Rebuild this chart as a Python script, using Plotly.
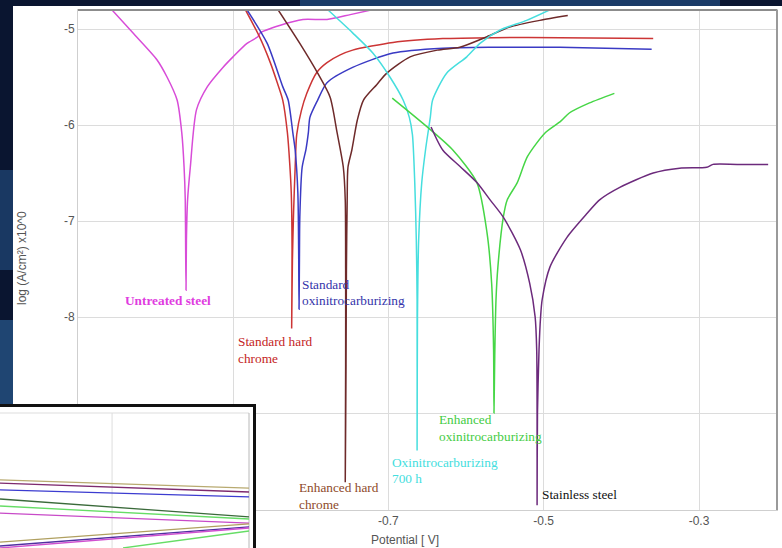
import plotly.graph_objects as go

W, H = 782, 548

# ---- Polarization curves: potential [V] vs log current density ----
untreated_v = [-1.056, -1.029, -0.998, -0.985, -0.972, -0.966, -0.963, -0.9615, -0.961, -0.9605,
               -0.9600, -0.9585, -0.955, -0.947, -0.933, -0.913, -0.900, -0.882, -0.868, -0.865,
               -0.839, -0.810, -0.779, -0.749, -0.721]
untreated_i = [-4.80, -5.04, -5.32, -5.50, -5.74, -6.08, -6.44, -6.78, -7.30, -7.72,
               -7.20, -6.78, -6.44, -5.84, -5.60, -5.40, -5.29, -5.15, -5.08, -5.04,
               -4.96, -4.90, -4.90, -4.85, -4.80]

hard_chrome_v = [-0.884, -0.866, -0.852, -0.843, -0.836, -0.830, -0.827, -0.825, -0.824, -0.8245,
                 -0.8235, -0.822, -0.820, -0.818, -0.812, -0.805, -0.792, -0.779, -0.762, -0.746,
                 -0.694, -0.630, -0.565, -0.479, -0.359]
hard_chrome_i = [-4.80, -5.08, -5.35, -5.56, -5.74, -6.08, -6.40, -6.71, -7.30, -8.12,
                 -7.40, -6.90, -6.44, -6.10, -5.85, -5.67, -5.45, -5.35, -5.27, -5.22,
                 -5.14, -5.10, -5.09, -5.09, -5.10]

oxinitro_v = [-0.882, -0.856, -0.836, -0.829, -0.823, -0.820, -0.8165, -0.8155, -0.815, -0.8145,
              -0.814, -0.811, -0.806, -0.803, -0.801, -0.791, -0.779, -0.746, -0.694, -0.630,
              -0.565, -0.479, -0.361]
oxinitro_i = [-4.80, -5.15, -5.60, -5.74, -6.08, -6.26, -6.71, -7.30, -7.92, -7.40,
              -6.96, -6.44, -6.25, -6.08, -5.92, -5.74, -5.56, -5.40, -5.25, -5.20,
              -5.19, -5.19, -5.21]

enh_chrome_v = [-0.842, -0.814, -0.791, -0.775, -0.766, -0.758, -0.7555, -0.755, -0.755, -0.7555,
                -0.7545, -0.754, -0.753, -0.752, -0.747, -0.740, -0.732, -0.715, -0.702, -0.672,
                -0.637, -0.608, -0.573, -0.544, -0.505, -0.469]
enh_chrome_i = [-4.80, -5.15, -5.46, -5.71, -6.08, -6.44, -6.78, -7.50, -8.50, -9.72,
                -8.50, -7.50, -6.78, -6.44, -6.26, -5.95, -5.74, -5.58, -5.46, -5.29,
                -5.22, -5.19, -5.08, -4.98, -4.91, -4.86]

oxi700_v = [-0.778, -0.746, -0.720, -0.698, -0.681, -0.673, -0.669, -0.666, -0.664, -0.663,
            -0.663, -0.6625, -0.661, -0.657, -0.652, -0.646, -0.643, -0.625, -0.599, -0.582,
            -0.556, -0.522, -0.492]
oxi700_i = [-4.80, -5.04, -5.25, -5.50, -5.74, -5.92, -6.10, -6.60, -7.20, -7.82,
            -9.39, -8.00, -7.20, -6.60, -6.25, -5.92, -5.74, -5.46, -5.29, -5.15,
            -5.01, -4.91, -4.80]

enh_oxi_v = [-0.695, -0.650, -0.617, -0.586, -0.573, -0.567, -0.5645, -0.564, -0.563, -0.5614,
             -0.559, -0.552, -0.547, -0.534, -0.521, -0.498, -0.478, -0.467, -0.441, -0.409]
enh_oxi_i = [-5.72, -6.02, -6.26, -6.60, -7.12, -7.65, -8.34, -9.00, -8.40, -7.82,
             -7.48, -6.96, -6.78, -6.60, -6.33, -6.08, -5.96, -5.875, -5.77, -5.67]

stainless_v = [-0.645, -0.630, -0.608, -0.586, -0.569, -0.552, -0.530, -0.518, -0.511, -0.509,
               -0.5085, -0.5085, -0.508, -0.506, -0.504, -0.502, -0.492, -0.470, -0.444, -0.428,
               -0.402, -0.359, -0.325, -0.290, -0.282, -0.251, -0.211]
stainless_i = [-6.02, -6.26, -6.43, -6.60, -6.78, -6.96, -7.30, -7.65, -8.00, -8.34,
               -9.00, -9.96, -9.00, -8.34, -8.00, -7.82, -7.48, -7.17, -6.92, -6.78,
               -6.65, -6.50, -6.45, -6.44, -6.41, -6.41, -6.41]

curve_colors = ["#d84cd8", "#cc3535", "#3a3ac4", "#6e2a2a", "#46dede", "#46d646", "#6c2a7c"]

# ---- Curve labels (one entry per text line) ----
label_text = ["<b>Untreated steel</b>", "Standard hard", "chrome", "Standard", "oxinitrocarburizing",
              "Enhanced hard", "chrome", "Oxinitrocarburizing", "700 h", "Enhanced",
              "oxinitrocarburizing", "Stainless steel"]
label_v = [-1.0415, -0.8962, -0.8962, -0.8138, -0.8138, -0.8176, -0.8176, -0.6979, -0.6979, -0.6373,
           -0.6373, -0.5048]
label_i = [-7.83, -8.26, -8.43, -7.66, -7.83, -9.78, -9.95, -9.51, -9.68, -9.07, -9.24, -9.85]
label_color = ["#e03ce0", "#c42424", "#c42424", "#3434aa", "#3434aa", "#8e4a2a", "#8e4a2a",
               "#44dede", "#44dede", "#44cc44", "#44cc44", "#111111"]

# ---- Axis ticks ----
x_ticks = [-0.9, -0.7, -0.5, -0.3]
x_tick_labels = ["-0.9", "-0.7", "-0.5", "-0.3"]
y_ticks = [-10, -9, -8, -7, -6, -5]
y_tick_labels = ["-10", "-9", "-8", "-7", "-6", "-5"]

# ---- Inset panel: straight-ish traces converging on the right ----
inset_x_start = [0.0, 0.0, 0.0, 0.0, 0.0, 0.0, 0.0, 0.0, 0.0, 0.494]
inset_x_end = [1.0] * 10
inset_y_start = [5.04, 4.81, 4.30, 3.63, 3.11, 2.59, 0.44, 0.15, 0.0, 0.0]
inset_y_end = [4.44, 4.15, 3.78, 2.30, 2.15, 1.85, 1.78, 1.56, 1.48, 1.26]
inset_colors = ["#b8aa70", "#7e2a6e", "#3c3cd0", "#3a6a3a", "#66dd66", "#c84ac8",
                "#b0a060", "#5030a0", "#d050d0", "#66dd66"]

fig = go.Figure()

curves = [(untreated_v, untreated_i), (hard_chrome_v, hard_chrome_i), (oxinitro_v, oxinitro_i),
          (enh_chrome_v, enh_chrome_i), (oxi700_v, oxi700_i), (enh_oxi_v, enh_oxi_i),
          (stainless_v, stainless_i)]
for (v, i), c in zip(curves, curve_colors):
    fig.add_trace(go.Scatter(x=v, y=i, mode="lines",
                             line=dict(color=c, width=1.5, shape="spline", smoothing=0.7),
                             xaxis="x", yaxis="y", hoverinfo="skip"))

for xs, xe, ys, ye, c in zip(inset_x_start, inset_x_end, inset_y_start, inset_y_end, inset_colors):
    fig.add_trace(go.Scatter(x=[xs, xe], y=[ys, ye], mode="lines", line=dict(color=c, width=1.3),
                             xaxis="x2", yaxis="y2", hoverinfo="skip"))

# pixel helpers for layout placement
def px_x(p):
    return p / W

def px_y(p):
    return (H - p) / H

shapes = [
    # slide glow behind the panel
    dict(type="rect", xref="paper", yref="paper", x0=px_x(300), x1=px_x(720), y0=px_y(7), y1=1.05,
         fillcolor="rgba(40,90,150,0.55)", line=dict(width=0), layer="below"),
    dict(type="rect", xref="paper", yref="paper", x0=-0.05, x1=px_x(14), y0=px_y(270), y1=px_y(170),
         fillcolor="rgba(45,100,160,0.45)", line=dict(width=0), layer="below"),
    dict(type="rect", xref="paper", yref="paper", x0=-0.05, x1=px_x(14), y0=px_y(405), y1=px_y(320),
         fillcolor="rgba(50,110,170,0.55)", line=dict(width=0), layer="below"),
    # white chart panel
    dict(type="rect", xref="paper", yref="paper", x0=px_x(13), x1=1.05, y0=-0.05, y1=px_y(6),
         fillcolor="white", line=dict(width=0), layer="below"),
    # darker top and right frame of the plot area
    dict(type="line", xref="paper", yref="paper", x0=px_x(78), x1=px_x(777), y0=px_y(10), y1=px_y(10),
         line=dict(color="#8c8c8c", width=2), layer="above"),
    dict(type="line", xref="paper", yref="paper", x0=px_x(777), x1=px_x(777), y0=px_y(510), y1=px_y(10),
         line=dict(color="#9a9a9a", width=2), layer="above"),
    # inset box
    dict(type="rect", xref="x2", yref="y2", x0=-0.2, x1=254.5 / 249, y0=-2, y1=(548 - 405.5) / 13.5,
         fillcolor="white", line=dict(color="#111111", width=3), layer="below"),
    dict(type="line", xref="x2", yref="y2", x0=-0.2, x1=1.0, y0=10, y1=10,
         line=dict(color="#dddddd", width=1), layer="below"),
    dict(type="line", xref="x2", yref="y2", x0=0.45, x1=0.45, y0=-2, y1=10,
         line=dict(color="#dddddd", width=1), layer="below"),
    dict(type="line", xref="x2", yref="y2", x0=1.0, x1=1.0, y0=-2, y1=10,
         line=dict(color="#b8b8b8", width=1), layer="below"),
]

annotations = []
for t, v, i, c in zip(label_text, label_v, label_i, label_color):
    annotations.append(dict(x=v, y=i, xref="x", yref="y", text=t, showarrow=False,
                            xanchor="left", yanchor="middle",
                            font=dict(family="Liberation Serif, Times New Roman, serif", size=13.3, color=c)))
annotations.append(dict(x=px_x(405), y=px_y(540), xref="paper", yref="paper", text="Potential [ V]",
                        showarrow=False, xanchor="center", yanchor="middle",
                        font=dict(family="Liberation Sans, Arial, sans-serif", size=12, color="#555555")))
annotations.append(dict(x=px_x(22), y=px_y(258), xref="paper", yref="paper",
                        text="log (A/cm²) x10^0", textangle=-90, showarrow=False,
                        xanchor="center", yanchor="middle",
                        font=dict(family="Liberation Sans, Arial, sans-serif", size=12, color="#555555")))

tickfont = dict(family="Liberation Sans, Arial, sans-serif", size=12, color="#555555")

fig.update_layout(
    width=W, height=H, autosize=False,
    margin=dict(l=0, r=0, t=0, b=0, pad=0),
    paper_bgcolor="#0a1530",
    plot_bgcolor="white",
    showlegend=False,
    xaxis=dict(domain=[px_x(78), px_x(777)], range=[-1.0996, -0.1996],
               tickmode="array", tickvals=x_ticks, ticktext=x_tick_labels,
               showgrid=True, gridcolor="#dcdcdc", gridwidth=1, zeroline=False,
               showline=True, linecolor="#cfcfcf", linewidth=1, mirror=True,
               ticks="", tickfont=tickfont, anchor="y", automargin=False),
    yaxis=dict(domain=[px_y(510), px_y(10)], range=[-10.01, -4.802],
               tickmode="array", tickvals=y_ticks, ticktext=y_tick_labels,
               showgrid=True, gridcolor="#dcdcdc", gridwidth=1, zeroline=False,
               showline=True, linecolor="#cfcfcf", linewidth=1, mirror=True,
               ticks="", tickfont=tickfont, anchor="x", automargin=False),
    xaxis2=dict(domain=[0, px_x(256)], range=[0, 256 / 249], visible=False, anchor="y2"),
    yaxis2=dict(domain=[0, px_y(404)], range=[0, 144 / 13.5], visible=False, anchor="x2"),
    shapes=shapes,
    annotations=annotations,
)

fig.write_html("out.html")
